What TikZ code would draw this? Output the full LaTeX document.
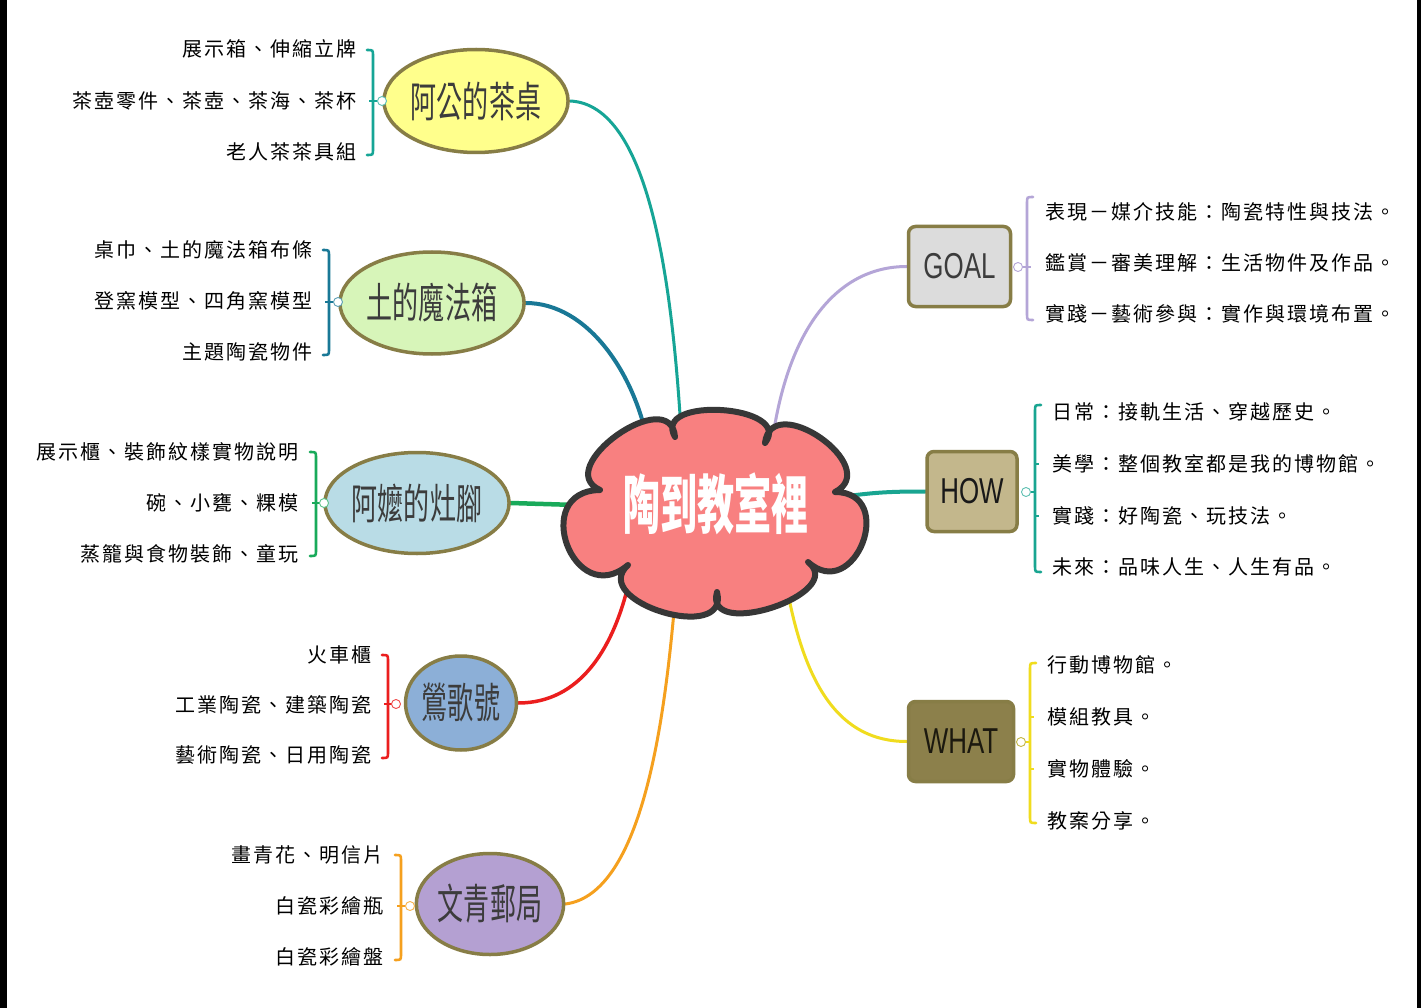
\documentclass[tikz,border=0pt]{standalone}
\usepackage{fontspec}
\setmainfont{Liberation Sans}
\newfontfamily\cjk{Noto Sans CJK TC}
\newfontfamily\cjkitem{Noto Sans CJK TC}[LetterSpace=10]
\usetikzlibrary{shapes.geometric,backgrounds}

\definecolor{cAgong}{RGB}{22,165,150}
\definecolor{cTu}{RGB}{25,120,150}
\definecolor{cAma}{RGB}{25,170,90}
\definecolor{cYing}{RGB}{235,30,30}
\definecolor{cWen}{RGB}{245,160,30}
\definecolor{cGoal}{RGB}{180,165,215}
\definecolor{cHow}{RGB}{25,165,145}
\definecolor{cWhat}{RGB}{240,220,30}
\definecolor{cOlive}{RGB}{135,125,70}
\definecolor{fAgong}{RGB}{255,255,140}
\definecolor{fTu}{RGB}{215,245,185}
\definecolor{fAma}{RGB}{185,220,230}
\definecolor{fYing}{RGB}{140,175,215}
\definecolor{fWen}{RGB}{180,160,210}
\definecolor{fGoal}{RGB}{220,220,220}
\definecolor{fHow}{RGB}{195,183,140}
\definecolor{fWhat}{RGB}{140,128,75}
\definecolor{fCloud}{RGB}{248,128,128}
\definecolor{cCloudLine}{RGB}{55,55,55}
\definecolor{labgray}{RGB}{60,60,60}
\definecolor{frameblack}{RGB}{0,0,0}

\newcommand\ellab[1]{\scalebox{0.62}[1]{\cjk\fontsize{42}{42}\selectfont #1}}
\newcommand\boxlab[1]{\scalebox{0.72}[1]{\fontsize{36}{36}\selectfont #1}}
% left bracket: x, ytop, ybottom, color
\newcommand\leftbrace[4]{%
  \draw[#4, line width=2.6pt, line cap=round] (#1-6,#2) .. controls (#1,#2) .. (#1,#2+6) -- (#1,#3-6) .. controls (#1,#3) .. (#1-6,#3);}
\newcommand\rightbrace[4]{%
  \draw[#4, line width=2.6pt, line cap=round] (#1+6,#2) .. controls (#1,#2) .. (#1,#2+6) -- (#1,#3-6) .. controls (#1,#3) .. (#1+6,#3);}

\tikzset{
  item/.style={font=\cjkitem\fontsize{20}{20}\selectfont, inner sep=0pt, text=black},
  bubble/.style={ellipse, draw=cOlive, line width=3.5pt, inner sep=0pt, text=labgray},
  tag/.style={rectangle, rounded corners=7pt, draw=cOlive, line width=3.5pt, inner sep=0pt, minimum height=80pt},
  knob/.style={circle, fill=white, line width=0.9pt, minimum size=9pt, inner sep=0pt},
  link/.style={line cap=round}
}

\begin{document}
\begin{tikzpicture}[x=1pt,y=-1pt]
\useasboundingbox (0,0) rectangle (1421,1008);

% ---------- cloud (centre) ----------
\filldraw[fill=fCloud, draw=cCloudLine, line width=6pt, line join=round]
  (600,490) .. controls (550.6,467.7) and (670.6,382.9) .. (675,437)
  .. controls (650.8,395.3) and (794.6,404.9) .. (765,443)
  .. controls (771.6,388.9) and (883.6,467.3) .. (835,492)
  .. controls (897.9,492.1) and (854.7,604.1) .. (808,562)
  .. controls (848.7,593.6) and (703.1,641.6) .. (717,592)
  .. controls (730.3,644.8) and (587.7,601.6) .. (628,565)
  .. controls (573.9,610.8) and (529.1,490.8) .. (600,490) -- cycle;
\node[font=\cjk\bfseries, text=white, inner sep=0pt] (core) at (716,504)
  {\scalebox{0.58}[1]{\fontsize{64}{64}\selectfont 陶到教室裡}};

\coordinate (pAgong) at (681,430);
\coordinate (pTu) at (648,444);
\coordinate (pAma) at (576,505);
\coordinate (pYing) at (627,590);
\coordinate (pWen) at (675,600);
\coordinate (pGoal) at (773,436);
\coordinate (pHow) at (848,496);
\coordinate (pWhat) at (787,588);

% ---------- branch bubbles ----------
\node[bubble, fill=fAgong, minimum width=168pt, minimum height=103pt] (agong) at (476,101) {\ellab{阿公的茶桌}};
\node[bubble, fill=fTu, minimum width=168pt, minimum height=102pt] (tu) at (432,303) {\ellab{土的魔法箱}};
\node[bubble, fill=fAma, minimum width=166pt, minimum height=101pt] (ama) at (417,503) {\ellab{阿嬤的灶腳}};
\node[bubble, fill=fYing, minimum width=111pt, minimum height=94pt] (ying) at (461,703) {\ellab{鶯歌號}};
\node[bubble, fill=fWen, minimum width=141pt, minimum height=101pt] (wen) at (490,904) {\ellab{文青郵局}};

\node[tag, fill=fGoal, minimum width=102pt, text=labgray] (goal) at (959.5,266.5) {\boxlab{GOAL}};
\node[tag, fill=fHow, minimum width=90pt, text=black!90] (how) at (972,491.5) {\boxlab{HOW}};
\node[tag, fill=fWhat, minimum width=105pt, text={black!80!fWhat}] (what) at (961,741.5) {\boxlab{WHAT}};

% ---------- connectors ----------
\begin{scope}[on background layer]
\fill[white] (0,0) rectangle (1421,1008);
\draw[link, cAgong, line width=3pt] (agong.east) .. controls +(80,3) and +(-9,-145) .. (pAgong);
\draw[link, cTu, line width=4pt] (tu.east) .. controls +(62,0) and +(-13,-70) .. (pTu);
\draw[link, cAma, line width=4.5pt] (ama.east) -- (pAma);
\draw[link, cYing, line width=3.5pt] (ying.east) .. controls +(62,0) and +(-15,58) .. (pYing);
\draw[link, cWen, line width=3pt] (wen.east) .. controls +(78,-10) and +(-10,115) .. (pWen);
\draw[link, cGoal, line width=3pt] (pGoal) .. controls +(17,-112) and +(-67,0) .. (goal.west);
\draw[link, cHow, line width=4pt] (pHow) .. controls +(30,-4) and +(-30,0) .. (how.west);
\draw[link, cWhat, line width=3pt] (pWhat) .. controls +(18,98) and +(-67,0) .. (what.west);
\end{scope}

% ---------- left groups ----------
% 阿公的茶桌
\node[item, anchor=east] (a1) at (357,49) {展示箱、伸縮立牌};
\node[item, anchor=east] (a2) at (357,101) {茶壺零件、茶壺、茶海、茶杯};
\node[item, anchor=east] (a3) at (357,152) {老人茶茶具組};
\leftbrace{373}{50}{155}{cAgong}
\draw[cAgong, line width=2.6pt] (369,101) -- (377,101);
\node[knob, draw=cAgong!70] (ka) at (382,101) {};

% 土的魔法箱
\node[item, anchor=east] (t1) at (313,250) {桌巾、土的魔法箱布條};
\node[item, anchor=east] (t2) at (313,301) {登窯模型、四角窯模型};
\node[item, anchor=east] (t3) at (313,352) {主題陶瓷物件};
\leftbrace{329}{250}{355}{cTu}
\draw[cTu, line width=2.6pt] (325,302) -- (333,302);
\node[knob, draw=cTu!70] (kt) at (338,302) {};

% 阿嬤的灶腳
\node[item, anchor=east] (m1) at (299,452) {展示櫃、裝飾紋樣實物說明};
\node[item, anchor=east] (m2) at (299,503) {碗、小甕、粿模};
\node[item, anchor=east] (m3) at (299,554) {蒸籠與食物裝飾、童玩};
\leftbrace{316}{452}{556}{cAma}
\draw[cAma, line width=2.6pt] (312,503) -- (320,503);
\node[knob, draw=cAma!70] (km) at (324,503) {};

% 鶯歌號
\node[item, anchor=east] (y1) at (372,655) {火車櫃};
\node[item, anchor=east] (y2) at (372,705) {工業陶瓷、建築陶瓷};
\node[item, anchor=east] (y3) at (372,755) {藝術陶瓷、日用陶瓷};
\leftbrace{388}{655}{758}{cYing}
\draw[cYing, line width=2.6pt] (384,704) -- (392,704);
\node[knob, draw=cYing!80] (ky) at (396,704) {};

% 文青郵局
\node[item, anchor=east] (w1) at (384,855) {畫青花、明信片};
\node[item, anchor=east] (w2) at (384,906) {白瓷彩繪瓶};
\node[item, anchor=east] (w3) at (384,957) {白瓷彩繪盤};
\leftbrace{401}{855}{960}{cWen}
\draw[cWen, line width=2.6pt] (397,906) -- (405,906);
\node[knob, draw=cWen!80] (kw) at (410,906) {};

% ---------- right groups ----------
% GOAL
\node[item, anchor=west] (g1) at (1045,212) {表現－媒介技能：陶瓷特性與技法。};
\node[item, anchor=west] (g2) at (1045,263) {鑑賞－審美理解：生活物件及作品。};
\node[item, anchor=west] (g3) at (1045,314) {實踐－藝術參與：實作與環境布置。};
\rightbrace{1027}{197}{320}{cGoal}
\draw[cGoal, line width=2.6pt] (1023,267) -- (1031,267);
\node[knob, draw=cGoal] (kg) at (1018,267) {};

% HOW
\node[item, anchor=west] (h1) at (1052,412) {日常：接軌生活、穿越歷史。};
\node[item, anchor=west] (h2) at (1052,464) {美學：整個教室都是我的博物館。};
\node[item, anchor=west] (h3) at (1052,516) {實踐：好陶瓷、玩技法。};
\node[item, anchor=west] (h4) at (1052,567) {未來：品味人生、人生有品。};
\rightbrace{1035}{405}{572}{cHow}
\draw[cHow, line width=2.6pt] (1031,492) -- (1035,492);
\draw[cHow, line width=2.6pt] (1035,464) -- (1039,464);
\draw[cHow, line width=2.6pt] (1035,516) -- (1039,516);
\node[knob, draw=cHow!70] (kh) at (1026,492) {};

% WHAT
\node[item, anchor=west] (q1) at (1047,665) {行動博物館。};
\node[item, anchor=west] (q2) at (1047,717) {模組教具。};
\node[item, anchor=west] (q3) at (1047,769) {實物體驗。};
\node[item, anchor=west] (q4) at (1047,821) {教案分享。};
\rightbrace{1030}{663}{823}{cWhat}
\draw[cWhat, line width=2.6pt] (1026,742) -- (1030,742);
\draw[cWhat, line width=2.6pt] (1030,717) -- (1034,717);
\draw[cWhat, line width=2.6pt] (1030,769) -- (1034,769);
\node[knob, draw=cWhat!60!gray] (kq) at (1021,742) {};

% ---------- frame bars ----------
\fill[frameblack] (0,0) rectangle (7,1008);
\fill[frameblack] (1417,0) rectangle (1421,1008);
\end{tikzpicture}
\end{document}
